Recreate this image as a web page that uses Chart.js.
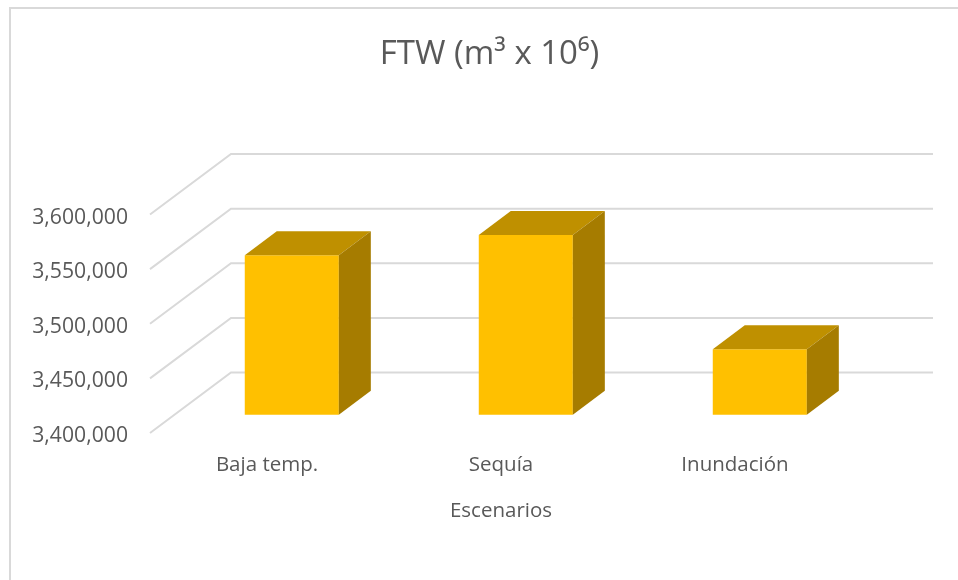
<!DOCTYPE html>
<html>
<head>
<meta charset="utf-8">
<style>
html,body{margin:0;padding:0;background:#fff}
#wrap{width:958px;height:580px;position:relative}
</style>
<script src="https://cdn.jsdelivr.net/npm/chart.js@4"></script>
</head>
<body>
<div id="wrap"><canvas id="c" width="958" height="580"></canvas></div>
<script>
const categories = ["Baja temp.", "Sequía", "Inundación"];
const ftwValues = [3546000, 3564500, 3460000];
const axisMin = 3400000;
const axisMax = 3600000;
const axisStep = 50000;
const chartTitle = "FTW (m³ x 10⁶)";
const xAxisTitle = "Escenarios";

const FONT = "'Open Sans', sans-serif";
const TEXT = "#595959";
const GRID = "#d9d9d9";
const FLOOR = {dx: 81, dy: -60.5};
const BAR_SHIFT = {dx: 24.8, dy: -18.3};
const BAR_DEPTH = {dx: 32, dy: -24};
const Y_LABEL_NUDGE = 3;

const frame3d = {
  id: "frame3d",
  beforeDraw(chart) {
    chart.scales.y.getLabelItems().forEach(item => {
      item.options.translation[1] += Y_LABEL_NUDGE;
    });
  },
  beforeDatasetsDraw(chart) {
    const {ctx, chartArea, scales} = chart;
    ctx.save();
    ctx.strokeStyle = GRID;
    ctx.lineWidth = 2;
    ctx.beginPath();
    ctx.moveTo(10, 580); ctx.lineTo(10, 8); ctx.lineTo(958, 8);
    ctx.stroke();
    scales.y.ticks.forEach(t => {
      const y = scales.y.getPixelForValue(t.value);
      ctx.beginPath();
      ctx.moveTo(chartArea.left, y);
      ctx.lineTo(chartArea.left + FLOOR.dx, y + FLOOR.dy);
      ctx.lineTo(chartArea.right + FLOOR.dx, y + FLOOR.dy);
      ctx.stroke();
    });
    ctx.restore();
  },
  beforeDatasetDraw(chart) {
    chart.ctx.save();
    chart.ctx.translate(BAR_SHIFT.dx, BAR_SHIFT.dy);
  },
  afterDatasetDraw(chart, args) {
    const ctx = chart.ctx;
    const b = chart.scales.y.getPixelForValue(axisMin);
    args.meta.data.forEach(el => {
      const l = el.x - el.width / 2, r = el.x + el.width / 2, t = el.y;
      ctx.fillStyle = "#bf9000";
      ctx.beginPath();
      ctx.moveTo(l, t); ctx.lineTo(l + BAR_DEPTH.dx, t + BAR_DEPTH.dy);
      ctx.lineTo(r + BAR_DEPTH.dx, t + BAR_DEPTH.dy); ctx.lineTo(r, t);
      ctx.closePath(); ctx.fill();
      ctx.fillStyle = "#a67c00";
      ctx.beginPath();
      ctx.moveTo(r, t); ctx.lineTo(r + BAR_DEPTH.dx, t + BAR_DEPTH.dy);
      ctx.lineTo(r + BAR_DEPTH.dx, b + BAR_DEPTH.dy); ctx.lineTo(r, b);
      ctx.closePath(); ctx.fill();
    });
    ctx.restore();
  }
};

new Chart(document.getElementById("c"), {
  type: "bar",
  data: {
    labels: categories,
    datasets: [{
      label: "FTW",
      data: ftwValues,
      backgroundColor: "#ffc000",
      borderWidth: 0,
      categoryPercentage: 1,
      barPercentage: 0.402
    }]
  },
  plugins: [frame3d],
  options: {
    responsive: false,
    animation: false,
    layout: {padding: {left: 21, right: 0, top: 0, bottom: 0}},
    plugins: {
      legend: {display: false},
      tooltip: {enabled: false},
      title: {
        display: true,
        text: chartTitle,
        color: TEXT,
        font: {family: FONT, size: 33, weight: "normal", lineHeight: 1.2},
        padding: {top: 35, bottom: 139.9}
      }
    },
    scales: {
      x: {
        grid: {display: false, drawTicks: false},
        border: {display: false},
        ticks: {color: TEXT, font: {family: FONT, size: 20.5}, padding: 20, maxRotation: 0},
        title: {display: true, text: xAxisTitle, color: TEXT,
                font: {family: FONT, size: 20.5}, padding: {top: 0, bottom: 57}},
        afterFit(s) { s.height = 147; }
      },
      y: {
        min: axisMin,
        max: axisMax,
        grid: {display: false, drawTicks: false},
        border: {display: false},
        ticks: {
          stepSize: axisStep,
          color: TEXT,
          font: {family: FONT, size: 21.2},
          padding: 22,
          callback: v => Number(v).toLocaleString("en-US")
        },
        afterFit(s) { s.width = 129; }
      },
      rightGap: {
        position: "right",
        grid: {display: false, drawTicks: false},
        border: {display: false},
        ticks: {display: false},
        afterFit(s) { s.width = 106; }
      }
    }
  }
});
</script>
</body>
</html>
